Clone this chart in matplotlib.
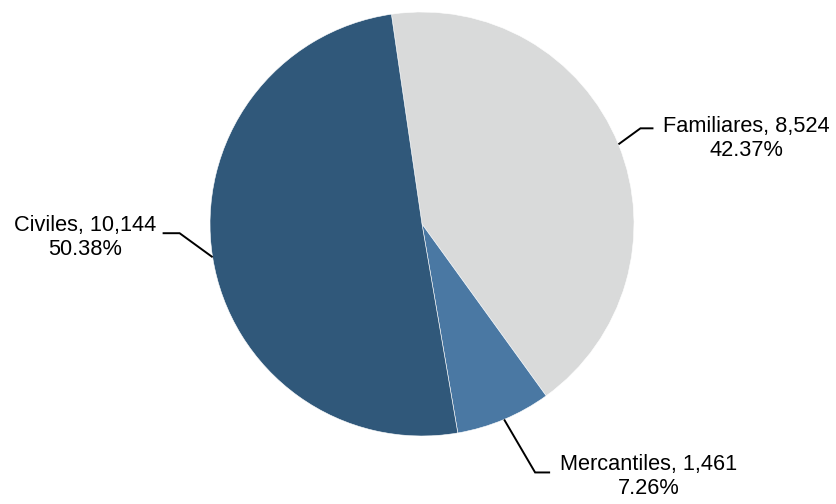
import numpy as np
import matplotlib.pyplot as plt

categories = ['Familiares', 'Mercantiles', 'Civiles']
counts = [8524, 1461, 10144]
pct_labels = ['42.37%', '7.26%', '50.38%']
colors = ['#D9DADA', '#4A78A3', '#30587A']

plt.rcParams['font.family'] = ['Liberation Sans', 'DejaVu Sans']

W, H = 837, 504
fig = plt.figure(figsize=(W / 100, H / 100), dpi=100)
ax = fig.add_axes([0, 0, 1, 1])
ax.set_xlim(0, W)
ax.set_ylim(0, H)
ax.set_aspect('equal')
ax.axis('off')

cx, cy, r = 422, 280, 212
wedges, _ = ax.pie(counts, colors=colors, startangle=98.3, counterclock=False,
                   center=(cx, cy), radius=r, frame=True,
                   wedgeprops=dict(edgecolor='white', linewidth=0.4))
ax.set_xlim(0, W)
ax.set_ylim(0, H)
ax.axis('off')

# leader line layout: (elbow dx, elbow dy, horizontal run, text gap, text dy)
layout = {
    'Familiares': (22, 16, 13, 10, -10),
    'Mercantiles': (31, -53, 15, 10, -4),
    'Civiles': (-33, 24, -17, -6, -4),
}

for w, cat, n, pct in zip(wedges, categories, counts, pct_labels):
    mid = np.deg2rad((w.theta1 + w.theta2) / 2)
    x0, y0 = cx + r * np.cos(mid), cy + r * np.sin(mid)
    dx, dy, run, gap, tdy = layout[cat]
    x1, y1 = x0 + dx, y0 + dy
    x2 = x1 + run
    ax.plot([x0, x1, x2], [y0, y1, y1], color='black', lw=1.4,
            solid_capstyle='butt', solid_joinstyle='miter')
    ha = 'left' if run > 0 else 'right'
    ax.text(x2 + gap, y1 + tdy, f'{cat}, {n:,}\n{pct}', ha=ha, va='center',
            multialignment='center', fontsize=15.7, linespacing=1.2)

fig.savefig('out.png', dpi=100)
